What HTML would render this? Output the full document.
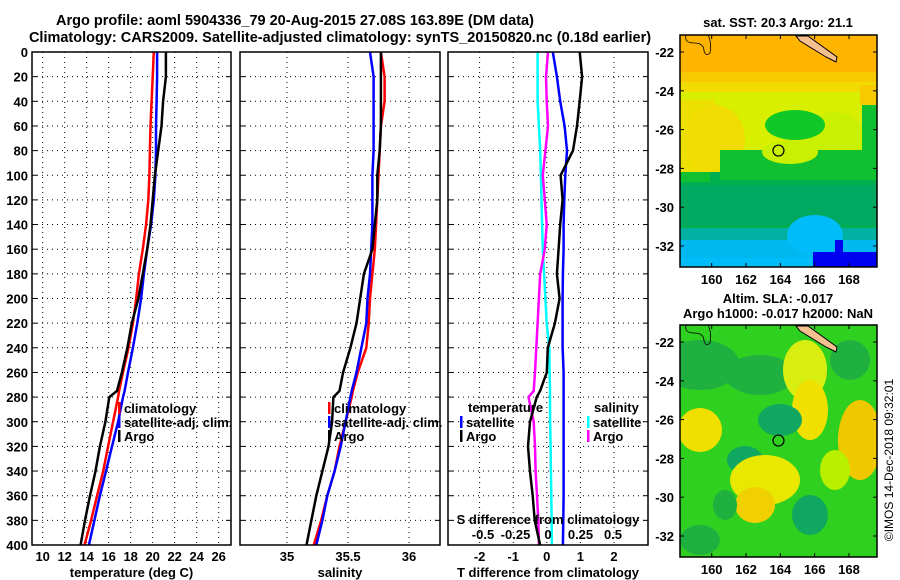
<!DOCTYPE html>
<html><head><meta charset="utf-8"><style>
html,body{margin:0;padding:0;background:#fff;}
svg{display:block;font-family:"Liberation Sans",sans-serif;font-weight:bold;}
text{font-size:13px;fill:#000;}
.ttl{font-size:14.5px;}
</style></head><body>
<svg id="fig" width="900" height="580" viewBox="0 0 900 580">
<text class="ttl" x="295" y="25" text-anchor="middle">Argo profile: aoml 5904336_79 20-Aug-2015 27.08S 163.89E (DM data)</text>
<text class="ttl" x="340" y="42" text-anchor="middle">Climatology: CARS2009. Satellite-adjusted climatology: synTS_20150820.nc (0.18d earlier)</text>
<g id="maps"></g>
<g id="panels"></g>
<text transform="translate(893,460) rotate(-90)" text-anchor="middle" style="font-size:12px;font-weight:normal">©IMOS 14-Dec-2018 09:32:01</text>
</svg>
<script>
// ---- data ----
const depths = [0,20,40,60,80,100,120,140,160,180,200,220,240,260,275,280,300,320,340,360,380,400];
const tempArgo = [21.2,21.2,20.95,20.8,20.5,20.2,20.0,19.8,19.5,19.1,18.7,18.1,17.7,17.2,16.75,16.05,15.7,15.2,14.8,14.3,13.85,13.45];
const tempClim = [20.1,20.0,19.9,19.8,19.75,19.7,19.6,19.4,19.1,18.75,18.5,18.2,17.8,17.3,16.95,16.85,16.4,15.95,15.5,14.95,14.4,13.8];
const tempSat  = [20.4,20.4,20.35,20.3,20.3,20.25,20.1,19.85,19.5,19.2,18.95,18.6,18.2,17.75,17.45,17.3,16.85,16.3,15.75,15.2,14.7,14.2];
const salArgo = [35.77,35.77,35.77,35.77,35.76,35.74,35.74,35.72,35.70,35.63,35.60,35.57,35.52,35.46,35.43,35.38,35.37,35.34,35.29,35.24,35.20,35.16];
const salClim = [35.77,35.80,35.80,35.77,35.76,35.75,35.74,35.73,35.72,35.70,35.68,35.67,35.65,35.58,35.54,35.53,35.48,35.43,35.39,35.33,35.28,35.22];
const salSat  = [35.68,35.71,35.71,35.71,35.71,35.70,35.70,35.70,35.69,35.68,35.66,35.65,35.61,35.57,35.53,35.52,35.48,35.44,35.39,35.33,35.29,35.24];
const dTSat  = [0.18,0.3,0.4,0.53,0.6,0.55,0.52,0.5,0.5,0.48,0.47,0.47,0.47,0.5,0.5,0.5,0.5,0.5,0.5,0.5,0.49,0.48];
const dTArgo = [0.98,1.05,0.98,0.9,0.78,0.41,0.47,0.4,0.35,0.3,0.38,0.24,0.03,0.0,-0.2,-0.3,-0.5,-0.56,-0.5,-0.42,-0.36,-0.2];
const dSSat  = [-0.08,-0.08,-0.08,-0.07,-0.06,-0.055,-0.05,-0.045,-0.04,-0.03,-0.02,-0.01,0.01,0.012,0.015,0.015,0.016,0.02,0.022,0.025,0.028,0.03];
const dSArgo = [0.0,-0.015,-0.01,0.0,-0.02,-0.04,-0.025,-0.01,-0.025,-0.06,-0.07,-0.08,-0.09,-0.1,-0.11,-0.15,-0.11,-0.1,-0.095,-0.085,-0.075,-0.07];
const depthTicks = [0,20,40,60,80,100,120,140,160,180,200,220,240,260,280,300,320,340,360,380,400];
const tempTicks = [10,12,14,16,18,20,22,24,26];
const salTicks = [35,35.5,36];
const dTTicks = [-2,-1,0,1,2];
const dSTicks = [-0.5,-0.25,0,0.25,0.5];
const latTicks = [-22,-24,-26,-28,-30,-32];
const lonTicks = [160,162,164,166,168];

const NS='http://www.w3.org/2000/svg';
function mk(tag,attrs,parent,txt){const e=document.createElementNS(NS,tag);for(const k in attrs)e.setAttribute(k,attrs[k]);if(txt!==undefined)e.textContent=txt;parent.appendChild(e);return e;}
const panels=document.getElementById('panels');
const Y0=52,Y1=545;
const yD=d=>Y0+(d/400)*(Y1-Y0);
function linX(x0,x1,v0,v1){return v=>x0+(v-v0)/(v1-v0)*(x1-x0);}

function panel(name,x0,x1,xf,ticks,tickFmt,yLabels,xlabel){
  const g=mk('g',{},panels);
  
  
  depthTicks.forEach(d=>{
    const l=mk('line',{x1:x0,x2:x1,y1:yD(d),y2:yD(d),stroke:'#000','stroke-width':1,'stroke-dasharray':'1,4'},g);
    
    
    mk('line',{x1:x0,x2:x0+5,y1:yD(d),y2:yD(d),stroke:'#000'},g);
    mk('line',{x1:x1-5,x2:x1,y1:yD(d),y2:yD(d),stroke:'#000'},g);
    if(yLabels){const t=mk('text',{x:x0-4,y:yD(d)+5,'text-anchor':'end'},g,String(d));
      
      }
  });
  ticks.forEach(v=>{
    const x=xf(v);
    const l=mk('line',{x1:x,x2:x,y1:Y0,y2:Y1,stroke:'#000','stroke-width':1,'stroke-dasharray':'1,4'},g);
    
    
    const t=mk('text',{x:x,y:561,'text-anchor':'middle'},g,tickFmt(v));
    
    
  });
  const t=mk('text',{x:(x0+x1)/2,y:577,'text-anchor':'middle'},g,xlabel);
  
  
  return g;
}
function frame(g,x0,x1){const r=mk('rect',{x:x0,y:Y0,width:x1-x0,height:Y1-Y0,fill:'none',stroke:'#000','stroke-width':1.5},g);
  
  }
function series(g,name,vals,xf,color){
  const pts=vals.map((v,i)=>xf(v).toFixed(1)+','+yD(depths[i]).toFixed(1)).join(' ');
  const p=mk('polyline',{points:pts,fill:'none',stroke:color,'stroke-width':2.5,'stroke-linejoin':'round'},g);
  
  
}
function legend(g,name,x,y,color,label){
  const lg=mk('g',{},g);
  
  
  mk('rect',{x:x,y:y-10,width:2.5,height:12,fill:color},lg);
  mk('text',{x:x+6,y:y+1},lg,label);
}

// panel 1 temperature
const xT=linX(42.7,218.7,10,26);
const g1=panel('temperature-panel',32,231,xT,tempTicks,v=>String(v),true,'temperature (deg C)');
series(g1,'temp-climatology-line',tempClim,xT,'#f00');
series(g1,'temp-satellite-line',tempSat,xT,'#00f');
series(g1,'temp-argo-line',tempArgo,xT,'#000');
frame(g1,32,231);
legend(g1,'legend-climatology',118,412,'#f00','climatology');
legend(g1,'legend-satellite-adj',118,426,'#00f','satellite-adj. clim.');
legend(g1,'legend-argo',118,440,'#000','Argo');

// panel 2 salinity
const xS=linX(287,409,35,36);
const g2=panel('salinity-panel',240,440,xS,salTicks,v=>String(v),false,'salinity');
series(g2,'sal-climatology-line',salClim,xS,'#f00');
series(g2,'sal-satellite-line',salSat,xS,'#00f');
series(g2,'sal-argo-line',salArgo,xS,'#000');
frame(g2,240,440);
legend(g2,'legend-climatology-sal',328,412,'#f00','climatology');
legend(g2,'legend-satellite-adj-sal',328,426,'#00f','satellite-adj. clim.');
legend(g2,'legend-argo-sal',328,440,'#000','Argo');

// panel 3 differences
const xdT=linX(479.6,614,-2,2);
const xdS=linX(483,613,-0.5,0.5);
const g3=panel('difference-panel',448,648,xdT,dTTicks,v=>String(v),false,'T difference from climatology');
series(g3,'dS-satellite-line',dSSat,xdS,'#0ff');
series(g3,'dS-argo-line',dSArgo,xdS,'#f0f');
series(g3,'dT-satellite-line',dTSat,xdT,'#00f');
series(g3,'dT-argo-line',dTArgo,xdT,'#000');
frame(g3,448,648);
{const t=mk('text',{x:468,y:412},g3,'temperature');}
legend(g3,'legend-temp-satellite',460,426,'#00f','satellite');
legend(g3,'legend-temp-argo',460,440,'#000','Argo');
{const t=mk('text',{x:594,y:412},g3,'salinity');}
legend(g3,'legend-sal-satellite',587,426,'#0ff','satellite');
legend(g3,'legend-sal-argo',587,440,'#f0f','Argo');
{const t=mk('text',{x:548,y:524,'text-anchor':'middle'},g3,'S difference from climatology');}
dSTicks.forEach(v=>{const t=mk('text',{x:xdS(v),y:539,'text-anchor':'middle'},g3,String(v));
  
  });

// ---- maps ----
const maps=document.getElementById('maps');
const MX0=680,MX1=877;
const lonX=linX(711.7,849,160,168);
function map(name,y0,y1,latY,title1,title2,blobs,bg){
  const g=mk('g',{},maps);
  
  
  const cid='clip'+name;
  const cp=mk('clipPath',{id:cid},g);mk('rect',{x:MX0,y:y0,width:MX1-MX0,height:y1-y0},cp);
  const inner=mk('g',{'clip-path':'url(#'+cid+')'},g);
  mk('rect',{x:MX0,y:y0,width:MX1-MX0,height:y1-y0,fill:bg},inner);
  blobs.forEach(b=>{
    if(b[0]==='r')mk('rect',{x:b[1],y:b[2],width:b[3],height:b[4],fill:b[5]},inner);
    else mk('ellipse',{cx:b[1],cy:b[2],rx:b[3],ry:b[4],fill:b[5]},inner);
  });
  // island (New Caledonia)
  mk('polygon',{points:'796,'+(y0+1)+' 808,'+(y0+1)+' 837,'+(y0+22)+' 836,'+(y0+27)+' 826,'+(y0+22)+' 800,'+(y0+6),fill:'#f5c090',stroke:'#000','stroke-width':1},inner);
  mk('path',{d:'M686,'+y0+' q-2,8 8,8 q10,0 10,8 q2,6 6,2 q2,-10 -2,-18',fill:'none',stroke:'#000','stroke-width':0.8},inner);
  const fr=mk('rect',{x:MX0,y:y0,width:MX1-MX0,height:y1-y0,fill:'none',stroke:'#000','stroke-width':1.5},g);
  
  
  latTicks.forEach(la=>{const y=latY(la);
    mk('line',{x1:MX0,x2:MX0+4,y1:y,y2:y,stroke:'#000'},g);
    mk('line',{x1:MX1-4,x2:MX1,y1:y,y2:y,stroke:'#000'},g);
    const t=mk('text',{x:MX0-6,y:y+5,'text-anchor':'end'},g,String(la));
    
    });
  lonTicks.forEach(lo=>{const x=lonX(lo);
    mk('line',{x1:x,x2:x,y1:y0,y2:y0+4,stroke:'#000'},g);
    mk('line',{x1:x,x2:x,y1:y1-4,y2:y1,stroke:'#000'},g);
    const t=mk('text',{x:x,y:y1+17,'text-anchor':'middle'},g,String(lo));
    
    });
  const mkr=mk('circle',{cx:lonX(163.89),cy:latY(-27.08),r:5.5,fill:'none',stroke:'#000','stroke-width':1.2},g);
  
  
  const t1=mk('text',{x:778,y:y0-(title2?22:8),'text-anchor':'middle'},g,title1);
  
  
  if(title2){const t2=mk('text',{x:778,y:y0-7,'text-anchor':'middle'},g,title2);
    
    }
  return g;
}
const sstLat=linX(52,246,-22,-32);
map('sst-map',35,267,sstLat,'sat. SST: 20.3 Argo: 21.1',null,[
  ['r',680,35,197,45,'#ffb400'],
  ['r',680,72,197,12,'#f8c800'],
  ['r',680,82,197,12,'#f0dc00'],
  ['r',680,92,197,90,'#d8f000'],
  ['r',680,100,35,80,'#ece000'],
  ['e',715,140,30,35,'#f0dc00'],
  ['r',860,85,17,20,'#f8c800'],
  ['e',835,140,30,28,'#c8f000'],
  ['r',680,172,197,95,'#00b050'],
  ['r',680,172,30,10,'#10c030'],
  ['r',720,150,160,30,'#10c030'],
  ['e',795,125,30,15,'#10c828'],
  ['e',790,152,28,12,'#c8f000'],
  ['r',862,105,15,75,'#10c030'],
  ['r',680,185,197,40,'#00a860'],
  ['r',680,228,197,40,'#00b0a0'],
  ['r',680,240,197,27,'#00b8f0'],
  ['e',815,235,28,20,'#00bcf8'],
  ['r',680,258,197,9,'#00bcf8'],
  ['r',813,252,64,15,'#0000f0'],
  ['r',835,240,8,14,'#0000f0']
],'#00b050');
const slaLat=linX(342,536,-22,-32);
map('sla-map',325,557,slaLat,'Altim. SLA: -0.017','Argo h1000: -0.017 h2000: NaN',[
  ['e',700,365,40,25,'#20b040'],
  ['e',760,375,35,20,'#20b040'],
  ['e',805,370,22,30,'#d8ee10'],
  ['e',810,410,18,30,'#f0e000'],
  ['e',700,430,22,22,'#f0e000'],
  ['e',780,420,22,16,'#10a860'],
  ['e',745,460,18,14,'#10a860'],
  ['e',765,480,35,25,'#e8e800'],
  ['e',755,505,20,18,'#f0d000'],
  ['e',860,440,22,40,'#f0c800'],
  ['e',810,515,18,20,'#10a860'],
  ['e',835,470,15,20,'#b8f000'],
  ['e',725,505,12,15,'#20b040'],
  ['e',700,540,20,15,'#20b040'],
  ['e',850,360,20,20,'#20b040']
],'#30d020');
</script>
</body></html>
